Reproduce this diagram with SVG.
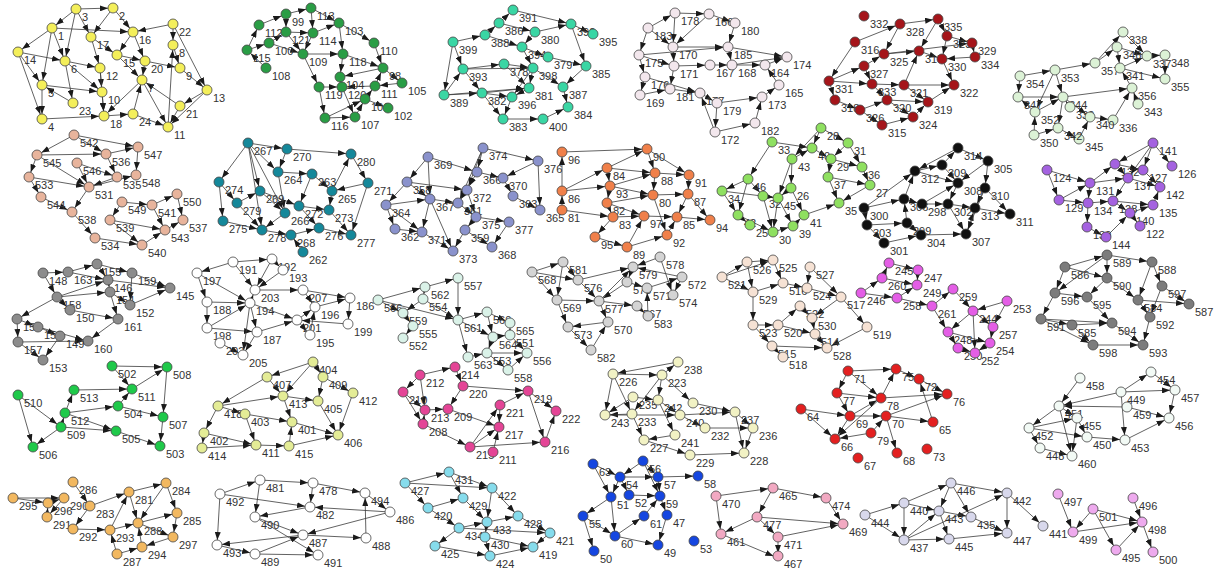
<svg xmlns="http://www.w3.org/2000/svg" width="1215" height="570" viewBox="0 0 1215 570">
<defs>
<marker id="a" viewBox="0 0 8 6" refX="13" refY="3" markerWidth="8" markerHeight="6" markerUnits="userSpaceOnUse" orient="auto"><path d="M0,0L8,3L0,6z" fill="#1a1a1a"/></marker>
</defs>
<style>
#edges line{stroke:#3a3a3a;stroke-width:.8;marker-end:url(#a)}
circle{r:5px;stroke:#454545;stroke-width:.8}
text{font-family:"Liberation Sans",Arial,sans-serif;font-size:11px;fill:#333;transform:translate(6px,12px)}
.cA circle{fill:#f4ef5a}.cB circle{fill:#2a9d45}.cC circle{fill:#3ad6a4}.cD circle{fill:#f3e7ed}
.cE circle{fill:#a5151a}.cF circle{fill:#dcf2d6}.cG circle{fill:#e8b49c}.cH circle{fill:#15889a}
.cI circle{fill:#8a92cc}.cJ circle{fill:#f0804a}.cK circle{fill:#8fe060}.cL circle{fill:#111}
.cM circle{fill:#a462e0}.cN circle{fill:#8c8c8c}.cO circle{fill:#fff}.cP circle{fill:#daf2e8}
.cQ circle{fill:#d4d4d4}.cR circle{fill:#f6e2d4}.cS circle{fill:#e45ee6}.cT circle{fill:#7c7c7c}
.cU circle{fill:#1fc94a}.cV circle{fill:#e4ec96}.cW circle{fill:#f2b860}.cX circle{fill:#fff}
.cY circle{fill:#e44596}.cZ circle{fill:#f2f2c4}.cAA circle{fill:#e32020}.cAB circle{fill:#f2faf5}
.cAC circle{fill:#86dcec}.cAD circle{fill:#1546e0}.cAE circle{fill:#f2a9c2}.cAF circle{fill:#d8d8ec}.cAG circle{fill:#eeaaee}
</style>
<rect width="1215" height="570" fill="#fff"/>
<g id="edges">
<line x1="76" y1="9" x2="52" y2="28"/><line x1="76" y1="9" x2="113" y2="8"/><line x1="113" y1="8" x2="133" y2="32"/><line x1="52" y1="28" x2="18" y2="52"/><line x1="18" y1="52" x2="42" y2="119"/><line x1="18" y1="52" x2="42" y2="85"/><line x1="52" y1="28" x2="42" y2="85"/><line x1="65" y1="61" x2="100" y2="68"/><line x1="76" y1="9" x2="91" y2="37"/><line x1="91" y1="37" x2="117" y2="55"/><line x1="133" y1="32" x2="145" y2="61"/><line x1="173" y1="24" x2="173" y2="45"/><line x1="173" y1="24" x2="133" y2="32"/><line x1="173" y1="45" x2="180" y2="68"/><line x1="180" y1="68" x2="207" y2="90"/><line x1="173" y1="24" x2="207" y2="90"/><line x1="145" y1="61" x2="142" y2="80"/><line x1="142" y1="80" x2="168" y2="127"/><line x1="180" y1="106" x2="168" y2="127"/><line x1="133" y1="114" x2="168" y2="127"/><line x1="104" y1="116" x2="133" y2="114"/><line x1="42" y1="119" x2="104" y2="116"/><line x1="73" y1="103" x2="42" y2="85"/><line x1="65" y1="61" x2="73" y2="103"/><line x1="102" y1="92" x2="104" y2="116"/><line x1="100" y1="68" x2="102" y2="92"/><line x1="117" y1="55" x2="142" y2="80"/><line x1="52" y1="28" x2="65" y2="61"/><line x1="42" y1="85" x2="42" y2="119"/><line x1="91" y1="37" x2="100" y2="68"/><line x1="145" y1="61" x2="180" y2="68"/><line x1="133" y1="114" x2="142" y2="80"/><line x1="180" y1="106" x2="142" y2="80"/><line x1="100" y1="68" x2="104" y2="116"/><line x1="113" y1="8" x2="91" y2="37"/><line x1="133" y1="32" x2="117" y2="55"/><line x1="142" y1="80" x2="104" y2="116"/><line x1="168" y1="127" x2="173" y2="45"/><line x1="207" y1="90" x2="180" y2="106"/><line x1="65" y1="61" x2="102" y2="92"/><line x1="117" y1="55" x2="145" y2="61"/><line x1="76" y1="9" x2="65" y2="61"/><line x1="52" y1="28" x2="133" y2="32"/><line x1="18" y1="52" x2="65" y2="61"/><line x1="42" y1="85" x2="102" y2="92"/><line x1="207" y1="90" x2="168" y2="127"/>
<line x1="259" y1="25" x2="286" y2="14"/><line x1="286" y1="14" x2="311" y2="8"/><line x1="311" y1="8" x2="313" y2="33"/><line x1="286" y1="14" x2="286" y2="32"/><line x1="286" y1="32" x2="303" y2="54"/><line x1="313" y1="33" x2="303" y2="54"/><line x1="339" y1="23" x2="343" y2="54"/><line x1="339" y1="23" x2="374" y2="43"/><line x1="374" y1="43" x2="383" y2="68"/><line x1="383" y1="68" x2="402" y2="83"/><line x1="247" y1="50" x2="259" y2="25"/><line x1="247" y1="50" x2="269" y2="43"/><line x1="269" y1="43" x2="303" y2="54"/><line x1="266" y1="68" x2="247" y2="50"/><line x1="303" y1="54" x2="343" y2="54"/><line x1="303" y1="54" x2="319" y2="87"/><line x1="343" y1="54" x2="340" y2="77"/><line x1="340" y1="77" x2="342" y2="87"/><line x1="319" y1="87" x2="325" y2="118"/><line x1="342" y1="87" x2="355" y2="117"/><line x1="375" y1="86" x2="383" y2="68"/><line x1="365" y1="99" x2="388" y2="108"/><line x1="355" y1="117" x2="365" y2="99"/><line x1="325" y1="118" x2="355" y2="117"/><line x1="383" y1="68" x2="340" y2="77"/><line x1="375" y1="86" x2="342" y2="87"/><line x1="319" y1="87" x2="342" y2="87"/><line x1="311" y1="8" x2="339" y2="23"/><line x1="286" y1="32" x2="313" y2="33"/><line x1="343" y1="54" x2="383" y2="68"/><line x1="402" y1="83" x2="375" y2="86"/><line x1="365" y1="99" x2="375" y2="86"/><line x1="269" y1="43" x2="286" y2="32"/><line x1="313" y1="33" x2="339" y2="23"/><line x1="325" y1="118" x2="365" y2="99"/>
<line x1="513" y1="10" x2="571" y2="24"/><line x1="499" y1="23" x2="513" y2="10"/><line x1="499" y1="23" x2="535" y2="32"/><line x1="535" y1="32" x2="571" y2="24"/><line x1="571" y1="24" x2="593" y2="34"/><line x1="485" y1="35" x2="499" y2="23"/><line x1="453" y1="42" x2="485" y2="35"/><line x1="485" y1="35" x2="522" y2="47"/><line x1="522" y1="47" x2="548" y2="57"/><line x1="548" y1="57" x2="586" y2="66"/><line x1="571" y1="24" x2="586" y2="66"/><line x1="453" y1="42" x2="444" y2="95"/><line x1="444" y1="95" x2="463" y2="69"/><line x1="463" y1="69" x2="504" y2="64"/><line x1="504" y1="64" x2="533" y2="68"/><line x1="533" y1="68" x2="529" y2="88"/><line x1="533" y1="68" x2="563" y2="87"/><line x1="563" y1="87" x2="568" y2="107"/><line x1="444" y1="95" x2="482" y2="93"/><line x1="482" y1="93" x2="529" y2="88"/><line x1="482" y1="93" x2="503" y2="119"/><line x1="512" y1="97" x2="503" y2="119"/><line x1="503" y1="119" x2="543" y2="119"/><line x1="543" y1="119" x2="568" y2="107"/><line x1="529" y1="88" x2="512" y2="97"/><line x1="463" y1="69" x2="482" y2="93"/><line x1="504" y1="64" x2="529" y2="88"/><line x1="522" y1="47" x2="533" y2="68"/><line x1="535" y1="32" x2="522" y2="47"/><line x1="586" y1="66" x2="563" y2="87"/><line x1="453" y1="42" x2="463" y2="69"/><line x1="482" y1="93" x2="512" y2="97"/><line x1="533" y1="68" x2="512" y2="97"/><line x1="444" y1="95" x2="529" y2="88"/><line x1="463" y1="69" x2="533" y2="68"/>
<line x1="675" y1="13" x2="709" y2="14"/><line x1="709" y1="14" x2="735" y2="23"/><line x1="648" y1="28" x2="675" y2="13"/><line x1="648" y1="28" x2="639" y2="55"/><line x1="639" y1="55" x2="645" y2="77"/><line x1="645" y1="77" x2="640" y2="95"/><line x1="673" y1="47" x2="728" y2="47"/><line x1="728" y1="47" x2="787" y2="57"/><line x1="674" y1="66" x2="710" y2="65"/><line x1="710" y1="65" x2="732" y2="65"/><line x1="732" y1="65" x2="765" y2="65"/><line x1="765" y1="65" x2="787" y2="57"/><line x1="779" y1="85" x2="765" y2="65"/><line x1="735" y1="23" x2="728" y2="47"/><line x1="673" y1="47" x2="674" y2="66"/><line x1="639" y1="55" x2="674" y2="66"/><line x1="670" y1="89" x2="700" y2="93"/><line x1="640" y1="95" x2="670" y2="89"/><line x1="700" y1="93" x2="717" y2="103"/><line x1="717" y1="103" x2="762" y2="97"/><line x1="762" y1="97" x2="779" y2="85"/><line x1="715" y1="132" x2="755" y2="123"/><line x1="755" y1="123" x2="762" y2="97"/><line x1="715" y1="132" x2="700" y2="93"/><line x1="648" y1="28" x2="673" y2="47"/><line x1="709" y1="14" x2="673" y2="47"/><line x1="732" y1="65" x2="787" y2="57"/><line x1="728" y1="47" x2="732" y2="65"/><line x1="674" y1="66" x2="670" y2="89"/><line x1="717" y1="103" x2="715" y2="132"/><line x1="675" y1="13" x2="673" y2="47"/><line x1="639" y1="55" x2="728" y2="47"/><line x1="645" y1="77" x2="700" y2="93"/>
<line x1="900" y1="24" x2="938" y2="19"/><line x1="938" y1="19" x2="947" y2="36"/><line x1="947" y1="36" x2="972" y2="43"/><line x1="972" y1="43" x2="975" y2="57"/><line x1="855" y1="42" x2="829" y2="81"/><line x1="884" y1="54" x2="919" y2="51"/><line x1="919" y1="51" x2="942" y2="59"/><line x1="942" y1="59" x2="954" y2="85"/><line x1="864" y1="66" x2="872" y2="84"/><line x1="872" y1="84" x2="904" y2="85"/><line x1="904" y1="85" x2="954" y2="85"/><line x1="829" y1="81" x2="835" y2="100"/><line x1="835" y1="100" x2="860" y2="110"/><line x1="860" y1="110" x2="887" y2="100"/><line x1="887" y1="100" x2="928" y2="102"/><line x1="928" y1="102" x2="954" y2="85"/><line x1="913" y1="117" x2="928" y2="102"/><line x1="882" y1="125" x2="913" y2="117"/><line x1="900" y1="24" x2="884" y2="54"/><line x1="938" y1="19" x2="919" y2="51"/><line x1="864" y1="66" x2="884" y2="54"/><line x1="947" y1="36" x2="942" y2="59"/><line x1="887" y1="100" x2="913" y2="117"/><line x1="872" y1="84" x2="887" y2="100"/><line x1="829" y1="81" x2="872" y2="84"/><line x1="855" y1="42" x2="900" y2="24"/><line x1="975" y1="57" x2="942" y2="59"/><line x1="904" y1="85" x2="928" y2="102"/><line x1="829" y1="81" x2="864" y2="66"/><line x1="884" y1="54" x2="972" y2="43"/><line x1="860" y1="110" x2="882" y2="125"/><line x1="904" y1="85" x2="919" y2="51"/>
<line x1="1123" y1="32" x2="1147" y2="56"/><line x1="1117" y1="47" x2="1147" y2="56"/><line x1="1147" y1="56" x2="1165" y2="55"/><line x1="1165" y1="55" x2="1165" y2="79"/><line x1="1095" y1="63" x2="1123" y2="32"/><line x1="1095" y1="63" x2="1117" y2="47"/><line x1="1120" y1="68" x2="1165" y2="79"/><line x1="1055" y1="70" x2="1095" y2="63"/><line x1="1020" y1="76" x2="1055" y2="70"/><line x1="1020" y1="76" x2="1018" y2="97"/><line x1="1018" y1="97" x2="1063" y2="97"/><line x1="1055" y1="70" x2="1063" y2="97"/><line x1="1063" y1="97" x2="1132" y2="88"/><line x1="1132" y1="88" x2="1120" y2="68"/><line x1="1138" y1="104" x2="1132" y2="88"/><line x1="1035" y1="112" x2="1063" y2="97"/><line x1="1034" y1="135" x2="1035" y2="112"/><line x1="1034" y1="135" x2="1058" y2="128"/><line x1="1058" y1="128" x2="1079" y2="139"/><line x1="1079" y1="139" x2="1090" y2="117"/><line x1="1090" y1="117" x2="1113" y2="120"/><line x1="1113" y1="120" x2="1132" y2="88"/><line x1="1070" y1="107" x2="1063" y2="97"/><line x1="1063" y1="97" x2="1090" y2="117"/><line x1="1035" y1="112" x2="1018" y2="97"/><line x1="1120" y1="68" x2="1147" y2="56"/><line x1="1055" y1="70" x2="1035" y2="112"/><line x1="1063" y1="97" x2="1058" y2="128"/><line x1="1117" y1="47" x2="1120" y2="68"/>
<line x1="74" y1="135" x2="138" y2="147"/><line x1="37" y1="155" x2="106" y2="154"/><line x1="74" y1="135" x2="37" y2="155"/><line x1="106" y1="154" x2="138" y2="147"/><line x1="37" y1="155" x2="29" y2="177"/><line x1="77" y1="163" x2="89" y2="187"/><line x1="106" y1="154" x2="117" y2="177"/><line x1="138" y1="147" x2="136" y2="175"/><line x1="117" y1="177" x2="89" y2="187"/><line x1="29" y1="177" x2="41" y2="197"/><line x1="41" y1="197" x2="72" y2="212"/><line x1="89" y1="187" x2="72" y2="212"/><line x1="89" y1="187" x2="136" y2="175"/><line x1="122" y1="202" x2="152" y2="205"/><line x1="152" y1="205" x2="177" y2="194"/><line x1="122" y1="202" x2="110" y2="220"/><line x1="110" y1="220" x2="142" y2="245"/><line x1="95" y1="238" x2="142" y2="245"/><line x1="165" y1="230" x2="183" y2="220"/><line x1="152" y1="205" x2="165" y2="230"/><line x1="142" y1="245" x2="165" y2="230"/><line x1="72" y1="212" x2="95" y2="238"/><line x1="37" y1="155" x2="89" y2="187"/><line x1="77" y1="163" x2="117" y2="177"/><line x1="177" y1="194" x2="183" y2="220"/><line x1="110" y1="220" x2="165" y2="230"/><line x1="29" y1="177" x2="89" y2="187"/><line x1="74" y1="135" x2="106" y2="154"/>
<line x1="248" y1="143" x2="287" y2="149"/><line x1="287" y1="149" x2="351" y2="154"/><line x1="351" y1="154" x2="368" y2="183"/><line x1="368" y1="183" x2="332" y2="191"/><line x1="368" y1="183" x2="351" y2="235"/><line x1="248" y1="143" x2="219" y2="182"/><line x1="248" y1="143" x2="260" y2="191"/><line x1="248" y1="143" x2="278" y2="172"/><line x1="278" y1="172" x2="312" y2="174"/><line x1="312" y1="174" x2="332" y2="191"/><line x1="219" y1="182" x2="237" y2="203"/><line x1="237" y1="203" x2="260" y2="191"/><line x1="260" y1="191" x2="299" y2="206"/><line x1="299" y1="206" x2="329" y2="210"/><line x1="278" y1="172" x2="285" y2="213"/><line x1="285" y1="213" x2="262" y2="230"/><line x1="223" y1="221" x2="262" y2="230"/><line x1="219" y1="182" x2="223" y2="221"/><line x1="262" y1="230" x2="291" y2="235"/><line x1="291" y1="235" x2="319" y2="228"/><line x1="319" y1="228" x2="351" y2="235"/><line x1="332" y1="191" x2="329" y2="210"/><line x1="329" y1="210" x2="351" y2="235"/><line x1="312" y1="174" x2="299" y2="206"/><line x1="303" y1="252" x2="291" y2="235"/><line x1="287" y1="149" x2="278" y2="172"/><line x1="260" y1="191" x2="285" y2="213"/><line x1="237" y1="203" x2="262" y2="230"/><line x1="299" y1="206" x2="319" y2="228"/><line x1="248" y1="143" x2="262" y2="230"/><line x1="332" y1="191" x2="351" y2="154"/><line x1="248" y1="143" x2="285" y2="213"/>
<line x1="483" y1="148" x2="538" y2="161"/><line x1="428" y1="157" x2="477" y2="172"/><line x1="483" y1="148" x2="477" y2="172"/><line x1="538" y1="161" x2="503" y2="178"/><line x1="538" y1="161" x2="540" y2="210"/><line x1="477" y1="172" x2="467" y2="190"/><line x1="503" y1="178" x2="513" y2="196"/><line x1="407" y1="182" x2="386" y2="205"/><line x1="407" y1="182" x2="430" y2="199"/><line x1="428" y1="157" x2="407" y2="182"/><line x1="430" y1="199" x2="458" y2="203"/><line x1="458" y1="203" x2="476" y2="217"/><line x1="467" y1="190" x2="476" y2="217"/><line x1="476" y1="217" x2="509" y2="222"/><line x1="513" y1="196" x2="540" y2="210"/><line x1="386" y1="205" x2="395" y2="229"/><line x1="395" y1="229" x2="422" y2="232"/><line x1="422" y1="232" x2="453" y2="251"/><line x1="465" y1="230" x2="453" y2="251"/><line x1="465" y1="230" x2="492" y2="247"/><line x1="509" y1="222" x2="492" y2="247"/><line x1="467" y1="190" x2="458" y2="203"/><line x1="430" y1="199" x2="422" y2="232"/><line x1="386" y1="205" x2="430" y2="199"/><line x1="477" y1="172" x2="503" y2="178"/><line x1="483" y1="148" x2="467" y2="190"/><line x1="428" y1="157" x2="430" y2="199"/><line x1="476" y1="217" x2="465" y2="230"/><line x1="430" y1="199" x2="453" y2="251"/><line x1="483" y1="148" x2="458" y2="203"/><line x1="407" y1="182" x2="467" y2="190"/><line x1="386" y1="205" x2="422" y2="232"/>
<line x1="562" y1="152" x2="647" y2="149"/><line x1="562" y1="191" x2="562" y2="152"/><line x1="607" y1="168" x2="647" y2="149"/><line x1="647" y1="149" x2="655" y2="173"/><line x1="655" y1="173" x2="689" y2="175"/><line x1="689" y1="175" x2="688" y2="194"/><line x1="688" y1="194" x2="710" y2="220"/><line x1="562" y1="191" x2="607" y2="168"/><line x1="562" y1="191" x2="610" y2="186"/><line x1="610" y1="186" x2="653" y2="195"/><line x1="653" y1="195" x2="688" y2="194"/><line x1="607" y1="168" x2="655" y2="173"/><line x1="562" y1="210" x2="562" y2="191"/><line x1="562" y1="210" x2="613" y2="217"/><line x1="607" y1="203" x2="613" y2="217"/><line x1="613" y1="217" x2="644" y2="216"/><line x1="644" y1="216" x2="677" y2="217"/><line x1="677" y1="217" x2="710" y2="220"/><line x1="595" y1="237" x2="627" y2="247"/><line x1="627" y1="247" x2="667" y2="235"/><line x1="667" y1="235" x2="677" y2="217"/><line x1="613" y1="217" x2="595" y2="237"/><line x1="610" y1="186" x2="607" y2="203"/><line x1="607" y1="203" x2="644" y2="216"/><line x1="653" y1="195" x2="667" y2="235"/><line x1="655" y1="173" x2="653" y2="195"/><line x1="627" y1="247" x2="644" y2="216"/><line x1="647" y1="149" x2="689" y2="175"/><line x1="607" y1="168" x2="610" y2="186"/><line x1="610" y1="186" x2="655" y2="173"/><line x1="607" y1="203" x2="653" y2="195"/><line x1="688" y1="194" x2="677" y2="217"/>
<line x1="821" y1="128" x2="848" y2="143"/><line x1="821" y1="128" x2="812" y2="148"/><line x1="821" y1="128" x2="792" y2="159"/><line x1="848" y1="143" x2="862" y2="167"/><line x1="862" y1="167" x2="870" y2="185"/><line x1="831" y1="159" x2="828" y2="177"/><line x1="828" y1="177" x2="839" y2="203"/><line x1="870" y1="185" x2="839" y2="203"/><line x1="772" y1="142" x2="748" y2="179"/><line x1="748" y1="179" x2="722" y2="191"/><line x1="722" y1="191" x2="738" y2="215"/><line x1="792" y1="159" x2="791" y2="188"/><line x1="748" y1="179" x2="763" y2="196"/><line x1="763" y1="196" x2="778" y2="198"/><line x1="778" y1="198" x2="793" y2="226"/><line x1="804" y1="215" x2="839" y2="203"/><line x1="793" y1="226" x2="804" y2="215"/><line x1="738" y1="215" x2="773" y2="232"/><line x1="773" y1="232" x2="793" y2="226"/><line x1="848" y1="143" x2="831" y2="159"/><line x1="812" y1="148" x2="831" y2="159"/><line x1="792" y1="159" x2="812" y2="148"/><line x1="791" y1="188" x2="804" y2="215"/><line x1="748" y1="179" x2="738" y2="215"/><line x1="763" y1="196" x2="773" y2="232"/><line x1="831" y1="159" x2="862" y2="167"/><line x1="828" y1="177" x2="870" y2="185"/><line x1="778" y1="198" x2="773" y2="232"/><line x1="791" y1="188" x2="778" y2="198"/><line x1="772" y1="142" x2="812" y2="148"/><line x1="738" y1="215" x2="750" y2="225"/><line x1="722" y1="191" x2="778" y2="198"/><line x1="792" y1="159" x2="778" y2="198"/>
<line x1="958" y1="148" x2="988" y2="161"/><line x1="942" y1="165" x2="958" y2="148"/><line x1="915" y1="171" x2="942" y2="165"/><line x1="988" y1="161" x2="985" y2="188"/><line x1="942" y1="165" x2="958" y2="183"/><line x1="958" y1="183" x2="948" y2="204"/><line x1="985" y1="188" x2="975" y2="208"/><line x1="975" y1="208" x2="1010" y2="214"/><line x1="904" y1="199" x2="915" y2="171"/><line x1="864" y1="208" x2="904" y2="199"/><line x1="922" y1="204" x2="958" y2="183"/><line x1="948" y1="204" x2="975" y2="208"/><line x1="907" y1="223" x2="921" y2="235"/><line x1="867" y1="225" x2="884" y2="243"/><line x1="864" y1="208" x2="867" y2="225"/><line x1="884" y1="243" x2="921" y2="235"/><line x1="921" y1="235" x2="966" y2="234"/><line x1="966" y1="234" x2="975" y2="208"/><line x1="948" y1="204" x2="966" y2="234"/><line x1="904" y1="199" x2="922" y2="204"/><line x1="907" y1="223" x2="904" y2="199"/><line x1="915" y1="171" x2="958" y2="183"/><line x1="985" y1="188" x2="966" y2="234"/><line x1="867" y1="225" x2="907" y2="223"/><line x1="988" y1="161" x2="958" y2="183"/><line x1="864" y1="208" x2="915" y2="171"/><line x1="985" y1="188" x2="1010" y2="214"/><line x1="958" y1="148" x2="915" y2="171"/><line x1="922" y1="204" x2="948" y2="204"/>
<line x1="1153" y1="143" x2="1172" y2="166"/><line x1="1153" y1="143" x2="1143" y2="170"/><line x1="1115" y1="164" x2="1143" y2="170"/><line x1="1090" y1="183" x2="1115" y2="164"/><line x1="1047" y1="170" x2="1059" y2="200"/><line x1="1059" y1="200" x2="1090" y2="183"/><line x1="1090" y1="183" x2="1128" y2="178"/><line x1="1128" y1="178" x2="1160" y2="187"/><line x1="1143" y1="170" x2="1160" y2="187"/><line x1="1088" y1="203" x2="1113" y2="201"/><line x1="1113" y1="201" x2="1153" y2="205"/><line x1="1153" y1="205" x2="1160" y2="187"/><line x1="1059" y1="200" x2="1088" y2="203"/><line x1="1088" y1="203" x2="1087" y2="227"/><line x1="1087" y1="227" x2="1106" y2="237"/><line x1="1130" y1="213" x2="1140" y2="226"/><line x1="1113" y1="201" x2="1130" y2="213"/><line x1="1128" y1="178" x2="1113" y2="201"/><line x1="1106" y1="237" x2="1130" y2="213"/><line x1="1153" y1="143" x2="1128" y2="178"/><line x1="1090" y1="183" x2="1088" y2="203"/><line x1="1115" y1="164" x2="1128" y2="178"/><line x1="1047" y1="170" x2="1090" y2="183"/><line x1="1153" y1="143" x2="1115" y2="164"/><line x1="1130" y1="213" x2="1153" y2="205"/>
<line x1="97" y1="264" x2="132" y2="273"/><line x1="43" y1="273" x2="68" y2="272"/><line x1="68" y1="272" x2="97" y2="264"/><line x1="132" y1="273" x2="170" y2="288"/><line x1="108" y1="280" x2="170" y2="288"/><line x1="43" y1="273" x2="57" y2="297"/><line x1="68" y1="272" x2="108" y2="280"/><line x1="57" y1="297" x2="110" y2="292"/><line x1="110" y1="292" x2="118" y2="319"/><line x1="130" y1="305" x2="170" y2="288"/><line x1="118" y1="319" x2="88" y2="341"/><line x1="57" y1="297" x2="17" y2="319"/><line x1="17" y1="319" x2="18" y2="342"/><line x1="18" y1="342" x2="43" y2="360"/><line x1="38" y1="327" x2="88" y2="341"/><line x1="70" y1="310" x2="118" y2="319"/><line x1="57" y1="297" x2="70" y2="310"/><line x1="60" y1="336" x2="43" y2="360"/><line x1="38" y1="327" x2="60" y2="336"/><line x1="17" y1="319" x2="38" y2="327"/><line x1="108" y1="280" x2="110" y2="292"/><line x1="110" y1="292" x2="130" y2="305"/><line x1="18" y1="342" x2="88" y2="341"/><line x1="57" y1="297" x2="108" y2="280"/><line x1="97" y1="264" x2="108" y2="280"/><line x1="132" y1="273" x2="130" y2="305"/>
<line x1="233" y1="262" x2="197" y2="273"/><line x1="233" y1="262" x2="272" y2="259"/><line x1="272" y1="259" x2="283" y2="270"/><line x1="233" y1="262" x2="255" y2="290"/><line x1="197" y1="273" x2="207" y2="302"/><line x1="197" y1="273" x2="250" y2="303"/><line x1="255" y1="290" x2="303" y2="290"/><line x1="283" y1="270" x2="255" y2="290"/><line x1="303" y1="290" x2="350" y2="298"/><line x1="350" y1="298" x2="348" y2="324"/><line x1="207" y1="302" x2="250" y2="303"/><line x1="250" y1="303" x2="257" y2="332"/><line x1="315" y1="307" x2="350" y2="298"/><line x1="297" y1="320" x2="315" y2="307"/><line x1="348" y1="324" x2="297" y2="320"/><line x1="257" y1="332" x2="297" y2="320"/><line x1="207" y1="328" x2="250" y2="303"/><line x1="207" y1="328" x2="257" y2="332"/><line x1="220" y1="343" x2="243" y2="355"/><line x1="257" y1="332" x2="243" y2="355"/><line x1="310" y1="335" x2="315" y2="307"/><line x1="297" y1="320" x2="310" y2="335"/><line x1="272" y1="259" x2="255" y2="290"/><line x1="250" y1="303" x2="255" y2="290"/><line x1="303" y1="290" x2="315" y2="307"/><line x1="207" y1="302" x2="207" y2="328"/><line x1="250" y1="303" x2="243" y2="355"/><line x1="250" y1="303" x2="297" y2="320"/>
<line x1="458" y1="278" x2="458" y2="320"/><line x1="425" y1="287" x2="458" y2="278"/><line x1="423" y1="299" x2="458" y2="320"/><line x1="378" y1="300" x2="403" y2="313"/><line x1="403" y1="313" x2="413" y2="326"/><line x1="413" y1="326" x2="403" y2="338"/><line x1="458" y1="320" x2="487" y2="312"/><line x1="487" y1="312" x2="510" y2="323"/><line x1="458" y1="320" x2="468" y2="357"/><line x1="493" y1="337" x2="510" y2="335"/><line x1="468" y1="357" x2="487" y2="353"/><line x1="487" y1="353" x2="527" y2="353"/><line x1="510" y1="335" x2="527" y2="353"/><line x1="487" y1="353" x2="508" y2="370"/><line x1="508" y1="370" x2="527" y2="353"/><line x1="378" y1="300" x2="425" y2="287"/><line x1="425" y1="287" x2="423" y2="299"/><line x1="487" y1="312" x2="493" y2="337"/><line x1="493" y1="337" x2="487" y2="353"/><line x1="458" y1="320" x2="493" y2="337"/><line x1="423" y1="299" x2="403" y2="313"/><line x1="510" y1="335" x2="510" y2="323"/><line x1="378" y1="300" x2="458" y2="320"/>
<line x1="532" y1="272" x2="563" y2="262"/><line x1="563" y1="262" x2="557" y2="300"/><line x1="532" y1="272" x2="557" y2="300"/><line x1="578" y1="280" x2="599" y2="301"/><line x1="557" y1="300" x2="599" y2="301"/><line x1="660" y1="257" x2="633" y2="267"/><line x1="633" y1="267" x2="627" y2="282"/><line x1="627" y1="282" x2="647" y2="288"/><line x1="647" y1="288" x2="682" y2="277"/><line x1="682" y1="277" x2="673" y2="295"/><line x1="660" y1="257" x2="673" y2="295"/><line x1="599" y1="301" x2="637" y2="306"/><line x1="637" y1="306" x2="648" y2="316"/><line x1="599" y1="301" x2="608" y2="322"/><line x1="608" y1="322" x2="568" y2="327"/><line x1="557" y1="300" x2="568" y2="327"/><line x1="568" y1="327" x2="591" y2="350"/><line x1="591" y1="350" x2="608" y2="322"/><line x1="578" y1="280" x2="633" y2="267"/><line x1="563" y1="262" x2="578" y2="280"/><line x1="627" y1="282" x2="599" y2="301"/><line x1="682" y1="277" x2="633" y2="267"/><line x1="648" y1="316" x2="647" y2="288"/><line x1="532" y1="272" x2="578" y2="280"/><line x1="599" y1="301" x2="633" y2="267"/>
<line x1="722" y1="277" x2="747" y2="262"/><line x1="747" y1="262" x2="773" y2="260"/><line x1="773" y1="260" x2="783" y2="283"/><line x1="810" y1="267" x2="807" y2="288"/><line x1="722" y1="277" x2="753" y2="292"/><line x1="753" y1="292" x2="783" y2="283"/><line x1="783" y1="283" x2="807" y2="288"/><line x1="807" y1="288" x2="841" y2="297"/><line x1="841" y1="297" x2="867" y2="327"/><line x1="800" y1="306" x2="812" y2="318"/><line x1="753" y1="292" x2="753" y2="325"/><line x1="753" y1="325" x2="778" y2="325"/><line x1="778" y1="325" x2="800" y2="306"/><line x1="812" y1="318" x2="815" y2="334"/><line x1="815" y1="334" x2="827" y2="348"/><line x1="867" y1="327" x2="827" y2="348"/><line x1="772" y1="346" x2="783" y2="357"/><line x1="753" y1="325" x2="772" y2="346"/><line x1="778" y1="325" x2="815" y2="334"/><line x1="810" y1="267" x2="841" y2="297"/><line x1="747" y1="262" x2="753" y2="292"/><line x1="772" y1="346" x2="827" y2="348"/><line x1="841" y1="297" x2="812" y2="318"/><line x1="722" y1="277" x2="773" y2="260"/>
<line x1="861" y1="293" x2="882" y2="278"/><line x1="882" y1="278" x2="889" y2="263"/><line x1="889" y1="263" x2="918" y2="270"/><line x1="918" y1="270" x2="917" y2="285"/><line x1="882" y1="278" x2="917" y2="285"/><line x1="897" y1="298" x2="917" y2="285"/><line x1="897" y1="298" x2="932" y2="306"/><line x1="932" y1="306" x2="953" y2="289"/><line x1="932" y1="306" x2="948" y2="332"/><line x1="953" y1="289" x2="973" y2="311"/><line x1="1007" y1="301" x2="973" y2="311"/><line x1="973" y1="311" x2="993" y2="327"/><line x1="1007" y1="301" x2="993" y2="327"/><line x1="948" y1="332" x2="990" y2="343"/><line x1="973" y1="311" x2="948" y2="332"/><line x1="958" y1="348" x2="975" y2="353"/><line x1="990" y1="343" x2="975" y2="353"/><line x1="948" y1="332" x2="958" y2="348"/><line x1="973" y1="311" x2="975" y2="353"/><line x1="993" y1="327" x2="990" y2="343"/><line x1="861" y1="293" x2="897" y2="298"/>
<line x1="1107" y1="255" x2="1152" y2="262"/><line x1="1065" y1="267" x2="1107" y2="255"/><line x1="1107" y1="255" x2="1107" y2="278"/><line x1="1152" y1="262" x2="1162" y2="286"/><line x1="1065" y1="267" x2="1055" y2="293"/><line x1="1055" y1="293" x2="1041" y2="319"/><line x1="1107" y1="278" x2="1138" y2="300"/><line x1="1162" y1="286" x2="1189" y2="304"/><line x1="1138" y1="300" x2="1189" y2="304"/><line x1="1150" y1="317" x2="1143" y2="345"/><line x1="1041" y1="319" x2="1072" y2="325"/><line x1="1072" y1="325" x2="1093" y2="345"/><line x1="1112" y1="323" x2="1143" y2="345"/><line x1="1087" y1="297" x2="1112" y2="323"/><line x1="1055" y1="293" x2="1087" y2="297"/><line x1="1107" y1="278" x2="1087" y2="297"/><line x1="1138" y1="300" x2="1150" y2="317"/><line x1="1093" y1="345" x2="1143" y2="345"/><line x1="1107" y1="255" x2="1055" y2="293"/><line x1="1152" y1="262" x2="1138" y2="300"/><line x1="1041" y1="319" x2="1112" y2="323"/><line x1="1072" y1="325" x2="1112" y2="323"/><line x1="1162" y1="286" x2="1150" y2="317"/><line x1="1065" y1="267" x2="1107" y2="278"/><line x1="1041" y1="319" x2="1093" y2="345"/>
<line x1="112" y1="366" x2="132" y2="389"/><line x1="112" y1="366" x2="167" y2="367"/><line x1="132" y1="389" x2="167" y2="367"/><line x1="74" y1="390" x2="132" y2="389"/><line x1="18" y1="395" x2="61" y2="427"/><line x1="18" y1="395" x2="33" y2="447"/><line x1="65" y1="413" x2="74" y2="390"/><line x1="61" y1="427" x2="65" y2="413"/><line x1="118" y1="406" x2="163" y2="417"/><line x1="65" y1="413" x2="116" y2="431"/><line x1="116" y1="431" x2="160" y2="446"/><line x1="163" y1="417" x2="160" y2="446"/><line x1="61" y1="427" x2="33" y2="447"/><line x1="167" y1="367" x2="163" y2="417"/><line x1="118" y1="406" x2="132" y2="389"/><line x1="61" y1="427" x2="116" y2="431"/><line x1="65" y1="413" x2="118" y2="406"/>
<line x1="313" y1="362" x2="267" y2="377"/><line x1="313" y1="362" x2="323" y2="377"/><line x1="323" y1="377" x2="353" y2="393"/><line x1="267" y1="377" x2="283" y2="396"/><line x1="283" y1="396" x2="318" y2="401"/><line x1="218" y1="406" x2="245" y2="414"/><line x1="245" y1="414" x2="292" y2="422"/><line x1="292" y1="422" x2="338" y2="435"/><line x1="353" y1="393" x2="338" y2="435"/><line x1="204" y1="433" x2="202" y2="448"/><line x1="202" y1="448" x2="256" y2="445"/><line x1="256" y1="445" x2="289" y2="446"/><line x1="289" y1="446" x2="292" y2="422"/><line x1="218" y1="406" x2="204" y2="433"/><line x1="267" y1="377" x2="218" y2="406"/><line x1="245" y1="414" x2="256" y2="445"/><line x1="283" y1="396" x2="292" y2="422"/><line x1="318" y1="401" x2="338" y2="435"/><line x1="204" y1="433" x2="256" y2="445"/><line x1="323" y1="377" x2="318" y2="401"/><line x1="313" y1="362" x2="283" y2="396"/><line x1="218" y1="406" x2="283" y2="396"/><line x1="289" y1="446" x2="338" y2="435"/>
<line x1="13" y1="498" x2="48" y2="503"/><line x1="48" y1="503" x2="64" y2="498"/><line x1="47" y1="517" x2="48" y2="503"/><line x1="73" y1="482" x2="90" y2="506"/><line x1="90" y1="506" x2="129" y2="492"/><line x1="129" y1="492" x2="166" y2="483"/><line x1="166" y1="483" x2="177" y2="513"/><line x1="177" y1="513" x2="173" y2="537"/><line x1="90" y1="506" x2="73" y2="529"/><line x1="73" y1="529" x2="110" y2="530"/><line x1="110" y1="530" x2="138" y2="523"/><line x1="138" y1="523" x2="177" y2="513"/><line x1="173" y1="537" x2="142" y2="547"/><line x1="142" y1="547" x2="138" y2="523"/><line x1="117" y1="554" x2="110" y2="530"/><line x1="117" y1="554" x2="142" y2="547"/><line x1="129" y1="492" x2="138" y2="523"/><line x1="166" y1="483" x2="138" y2="523"/><line x1="64" y1="498" x2="47" y2="517"/><line x1="138" y1="523" x2="173" y2="537"/><line x1="13" y1="498" x2="64" y2="498"/><line x1="110" y1="530" x2="129" y2="492"/>
<line x1="260" y1="480" x2="313" y2="483"/><line x1="220" y1="494" x2="260" y2="480"/><line x1="313" y1="483" x2="365" y2="493"/><line x1="313" y1="483" x2="310" y2="507"/><line x1="310" y1="507" x2="255" y2="517"/><line x1="365" y1="493" x2="390" y2="512"/><line x1="390" y1="512" x2="310" y2="507"/><line x1="255" y1="517" x2="303" y2="535"/><line x1="303" y1="535" x2="366" y2="538"/><line x1="366" y1="538" x2="365" y2="493"/><line x1="217" y1="545" x2="255" y2="554"/><line x1="255" y1="554" x2="318" y2="555"/><line x1="220" y1="494" x2="217" y2="545"/><line x1="303" y1="535" x2="217" y2="545"/><line x1="255" y1="517" x2="318" y2="555"/><line x1="255" y1="554" x2="303" y2="535"/><line x1="390" y1="512" x2="303" y2="535"/><line x1="220" y1="494" x2="310" y2="507"/><line x1="260" y1="480" x2="255" y2="517"/>
<line x1="420" y1="375" x2="455" y2="367"/><line x1="455" y1="367" x2="463" y2="386"/><line x1="463" y1="386" x2="528" y2="391"/><line x1="403" y1="392" x2="425" y2="410"/><line x1="425" y1="410" x2="448" y2="409"/><line x1="448" y1="409" x2="499" y2="427"/><line x1="500" y1="405" x2="528" y2="391"/><line x1="528" y1="391" x2="556" y2="411"/><line x1="500" y1="405" x2="499" y2="427"/><line x1="423" y1="424" x2="470" y2="447"/><line x1="470" y1="447" x2="499" y2="427"/><line x1="470" y1="447" x2="545" y2="442"/><line x1="545" y1="442" x2="556" y2="411"/><line x1="493" y1="452" x2="499" y2="427"/><line x1="420" y1="375" x2="425" y2="410"/><line x1="423" y1="424" x2="425" y2="410"/><line x1="463" y1="386" x2="448" y2="409"/><line x1="528" y1="391" x2="545" y2="442"/><line x1="403" y1="392" x2="423" y2="424"/><line x1="420" y1="375" x2="403" y2="392"/><line x1="470" y1="447" x2="500" y2="405"/>
<line x1="678" y1="362" x2="613" y2="374"/><line x1="662" y1="375" x2="678" y2="362"/><line x1="613" y1="374" x2="605" y2="415"/><line x1="613" y1="374" x2="632" y2="414"/><line x1="662" y1="375" x2="658" y2="400"/><line x1="633" y1="397" x2="605" y2="415"/><line x1="658" y1="400" x2="680" y2="415"/><line x1="693" y1="403" x2="735" y2="412"/><line x1="632" y1="414" x2="605" y2="415"/><line x1="680" y1="415" x2="705" y2="428"/><line x1="705" y1="428" x2="753" y2="428"/><line x1="735" y1="412" x2="753" y2="428"/><line x1="753" y1="428" x2="744" y2="453"/><line x1="735" y1="412" x2="744" y2="453"/><line x1="644" y1="440" x2="690" y2="455"/><line x1="690" y1="455" x2="744" y2="453"/><line x1="675" y1="435" x2="644" y2="440"/><line x1="632" y1="414" x2="644" y2="440"/><line x1="662" y1="375" x2="693" y2="403"/><line x1="658" y1="400" x2="675" y2="435"/><line x1="680" y1="415" x2="735" y2="412"/><line x1="633" y1="397" x2="658" y2="400"/><line x1="662" y1="375" x2="632" y2="414"/><line x1="605" y1="415" x2="680" y2="415"/><line x1="613" y1="374" x2="662" y2="375"/>
<line x1="848" y1="371" x2="896" y2="369"/><line x1="896" y1="369" x2="919" y2="379"/><line x1="919" y1="379" x2="947" y2="394"/><line x1="848" y1="371" x2="837" y2="393"/><line x1="837" y1="393" x2="850" y2="416"/><line x1="881" y1="398" x2="896" y2="369"/><line x1="881" y1="398" x2="947" y2="394"/><line x1="801" y1="409" x2="850" y2="416"/><line x1="801" y1="409" x2="835" y2="439"/><line x1="850" y1="416" x2="886" y2="416"/><line x1="886" y1="416" x2="933" y2="422"/><line x1="933" y1="422" x2="919" y2="379"/><line x1="871" y1="433" x2="886" y2="416"/><line x1="886" y1="416" x2="897" y2="453"/><line x1="850" y1="416" x2="835" y2="439"/><line x1="881" y1="398" x2="835" y2="439"/><line x1="871" y1="433" x2="835" y2="439"/><line x1="837" y1="393" x2="881" y2="398"/><line x1="850" y1="416" x2="881" y2="398"/><line x1="886" y1="416" x2="947" y2="394"/><line x1="848" y1="371" x2="881" y2="398"/>
<line x1="1151" y1="372" x2="1175" y2="390"/><line x1="1121" y1="392" x2="1151" y2="372"/><line x1="1121" y1="392" x2="1175" y2="390"/><line x1="1175" y1="390" x2="1169" y2="418"/><line x1="1080" y1="378" x2="1059" y2="406"/><line x1="1127" y1="407" x2="1059" y2="406"/><line x1="1059" y1="406" x2="1029" y2="428"/><line x1="1077" y1="418" x2="1072" y2="456"/><line x1="1029" y1="428" x2="1040" y2="448"/><line x1="1040" y1="448" x2="1072" y2="456"/><line x1="1087" y1="437" x2="1125" y2="440"/><line x1="1125" y1="440" x2="1169" y2="418"/><line x1="1121" y1="392" x2="1125" y2="440"/><line x1="1077" y1="418" x2="1087" y2="437"/><line x1="1059" y1="406" x2="1072" y2="456"/><line x1="1029" y1="428" x2="1077" y2="418"/><line x1="1127" y1="407" x2="1169" y2="418"/><line x1="1059" y1="406" x2="1077" y2="418"/><line x1="1121" y1="392" x2="1059" y2="406"/><line x1="1029" y1="428" x2="1087" y2="437"/>
<line x1="405" y1="483" x2="449" y2="472"/><line x1="449" y1="472" x2="492" y2="488"/><line x1="405" y1="483" x2="428" y2="508"/><line x1="449" y1="472" x2="463" y2="498"/><line x1="463" y1="498" x2="487" y2="522"/><line x1="492" y1="488" x2="518" y2="516"/><line x1="518" y1="516" x2="550" y2="533"/><line x1="487" y1="522" x2="518" y2="516"/><line x1="428" y1="508" x2="459" y2="528"/><line x1="459" y1="528" x2="435" y2="546"/><line x1="485" y1="537" x2="533" y2="547"/><line x1="435" y1="546" x2="490" y2="556"/><line x1="490" y1="556" x2="533" y2="547"/><line x1="487" y1="522" x2="485" y2="537"/><line x1="550" y1="533" x2="533" y2="547"/><line x1="459" y1="528" x2="487" y2="522"/><line x1="492" y1="488" x2="487" y2="522"/><line x1="428" y1="508" x2="463" y2="498"/><line x1="485" y1="537" x2="490" y2="556"/><line x1="405" y1="483" x2="492" y2="488"/><line x1="459" y1="528" x2="550" y2="533"/>
<line x1="593" y1="464" x2="611" y2="497"/><line x1="643" y1="461" x2="620" y2="477"/><line x1="643" y1="461" x2="658" y2="477"/><line x1="620" y1="477" x2="658" y2="477"/><line x1="658" y1="477" x2="698" y2="476"/><line x1="620" y1="477" x2="611" y2="497"/><line x1="629" y1="495" x2="660" y2="496"/><line x1="658" y1="477" x2="660" y2="496"/><line x1="611" y1="497" x2="583" y2="516"/><line x1="583" y1="516" x2="594" y2="551"/><line x1="611" y1="497" x2="615" y2="536"/><line x1="615" y1="536" x2="644" y2="516"/><line x1="615" y1="536" x2="658" y2="545"/><line x1="660" y1="496" x2="667" y2="515"/><line x1="644" y1="516" x2="660" y2="496"/><line x1="583" y1="516" x2="615" y2="536"/><line x1="667" y1="515" x2="658" y2="545"/><line x1="620" y1="477" x2="629" y2="495"/><line x1="643" y1="461" x2="660" y2="496"/><line x1="593" y1="464" x2="620" y2="477"/>
<line x1="716" y1="496" x2="773" y2="488"/><line x1="716" y1="496" x2="721" y2="534"/><line x1="773" y1="488" x2="757" y2="517"/><line x1="757" y1="517" x2="721" y2="534"/><line x1="757" y1="517" x2="778" y2="537"/><line x1="778" y1="537" x2="778" y2="558"/><line x1="721" y1="534" x2="778" y2="558"/><line x1="826" y1="498" x2="843" y2="524"/><line x1="773" y1="488" x2="826" y2="498"/><line x1="757" y1="517" x2="843" y2="524"/><line x1="778" y1="537" x2="843" y2="524"/>
<line x1="951" y1="483" x2="1007" y2="493"/><line x1="904" y1="503" x2="951" y2="483"/><line x1="865" y1="515" x2="904" y2="503"/><line x1="865" y1="515" x2="904" y2="540"/><line x1="904" y1="503" x2="904" y2="540"/><line x1="939" y1="511" x2="971" y2="517"/><line x1="951" y1="483" x2="971" y2="517"/><line x1="1007" y1="493" x2="1043" y2="526"/><line x1="1007" y1="493" x2="1007" y2="533"/><line x1="949" y1="539" x2="1007" y2="533"/><line x1="904" y1="540" x2="949" y2="539"/><line x1="939" y1="511" x2="949" y2="539"/><line x1="904" y1="540" x2="939" y2="511"/><line x1="904" y1="503" x2="939" y2="511"/><line x1="951" y1="483" x2="939" y2="511"/><line x1="971" y1="517" x2="1007" y2="533"/><line x1="904" y1="540" x2="1007" y2="493"/>
<line x1="1058" y1="494" x2="1073" y2="532"/><line x1="1093" y1="509" x2="1073" y2="532"/><line x1="1093" y1="509" x2="1142" y2="522"/><line x1="1133" y1="498" x2="1142" y2="522"/><line x1="1073" y1="532" x2="1142" y2="522"/><line x1="1093" y1="509" x2="1116" y2="550"/><line x1="1116" y1="550" x2="1142" y2="522"/><line x1="1142" y1="522" x2="1153" y2="552"/>
</g>
<g id="cA" class="cA">
<g id="n1" transform="translate(52,28)"><circle/><text>1</text></g><g id="n2" transform="translate(113,8)"><circle/><text>2</text></g><g id="n3" transform="translate(76,9)"><circle/><text>3</text></g><g id="n4" transform="translate(42,119)"><circle/><text>4</text></g><g id="n5" transform="translate(42,85)"><circle/><text>5</text></g><g id="n6" transform="translate(65,61)"><circle/><text>6</text></g><g id="n7" transform="translate(142,80)"><circle/><text>7</text></g><g id="n8" transform="translate(173,45)"><circle/><text>8</text></g><g id="n9" transform="translate(180,68)"><circle/><text>9</text></g><g id="n10" transform="translate(102,92)"><circle/><text>10</text></g><g id="n11" transform="translate(168,127)"><circle/><text>11</text></g><g id="n12" transform="translate(100,68)"><circle/><text>12</text></g><g id="n13" transform="translate(207,90)"><circle/><text>13</text></g><g id="n14" transform="translate(18,52)"><circle/><text>14</text></g><g id="n15" transform="translate(117,55)"><circle/><text>15</text></g><g id="n16" transform="translate(133,32)"><circle/><text>16</text></g><g id="n17" transform="translate(91,37)"><circle/><text>17</text></g><g id="n18" transform="translate(104,116)"><circle/><text>18</text></g><g id="n20" transform="translate(145,61)"><circle/><text>20</text></g><g id="n21" transform="translate(180,106)"><circle/><text>21</text></g><g id="n22" transform="translate(173,24)"><circle/><text>22</text></g><g id="n23" transform="translate(73,103)"><circle/><text>23</text></g><g id="n24" transform="translate(133,114)"><circle/><text>24</text></g>
</g>
<g id="cB" class="cB">
<g id="n99" transform="translate(286,14)"><circle/><text>99</text></g><g id="n113" transform="translate(311,8)"><circle/><text>113</text></g><g id="n112" transform="translate(259,25)"><circle/><text>112</text></g><g id="n121" transform="translate(286,32)"><circle/><text>121</text></g><g id="n114" transform="translate(313,33)"><circle/><text>114</text></g><g id="n103" transform="translate(339,23)"><circle/><text>103</text></g><g id="n115" transform="translate(247,50)"><circle/><text>115</text></g><g id="n100" transform="translate(269,43)"><circle/><text>100</text></g><g id="n109" transform="translate(303,54)"><circle/><text>109</text></g><g id="n108" transform="translate(266,68)"><circle/><text>108</text></g><g id="n118" transform="translate(343,54)"><circle/><text>118</text></g><g id="n110" transform="translate(374,43)"><circle/><text>110</text></g><g id="n98" transform="translate(383,68)"><circle/><text>98</text></g><g id="n105" transform="translate(402,83)"><circle/><text>105</text></g><g id="n104" transform="translate(340,77)"><circle/><text>104</text></g><g id="n119" transform="translate(319,87)"><circle/><text>119</text></g><g id="n120" transform="translate(342,87)"><circle/><text>120</text></g><g id="n111" transform="translate(375,86)"><circle/><text>111</text></g><g id="n101" transform="translate(365,99)"><circle/><text>101</text></g><g id="n102" transform="translate(388,108)"><circle/><text>102</text></g><g id="n116" transform="translate(325,118)"><circle/><text>116</text></g><g id="n107" transform="translate(355,117)"><circle/><text>107</text></g>
</g>
<g id="cC" class="cC">
<g id="n391" transform="translate(513,10)"><circle/><text>391</text></g><g id="n386" transform="translate(499,23)"><circle/><text>386</text></g><g id="n380" transform="translate(535,32)"><circle/><text>380</text></g><g id="n392" transform="translate(571,24)"><circle/><text>392</text></g><g id="n395" transform="translate(593,34)"><circle/><text>395</text></g><g id="n388" transform="translate(485,35)"><circle/><text>388</text></g><g id="n399" transform="translate(453,42)"><circle/><text>399</text></g><g id="n394" transform="translate(522,47)"><circle/><text>394</text></g><g id="n379" transform="translate(548,57)"><circle/><text>379</text></g><g id="n385" transform="translate(586,66)"><circle/><text>385</text></g><g id="n393" transform="translate(463,69)"><circle/><text>393</text></g><g id="n378" transform="translate(504,64)"><circle/><text>378</text></g><g id="n398" transform="translate(533,68)"><circle/><text>398</text></g><g id="n387" transform="translate(563,87)"><circle/><text>387</text></g><g id="n389" transform="translate(444,95)"><circle/><text>389</text></g><g id="n382" transform="translate(482,93)"><circle/><text>382</text></g><g id="n381" transform="translate(529,88)"><circle/><text>381</text></g><g id="n396" transform="translate(512,97)"><circle/><text>396</text></g><g id="n384" transform="translate(568,107)"><circle/><text>384</text></g><g id="n383" transform="translate(503,119)"><circle/><text>383</text></g><g id="n400" transform="translate(543,119)"><circle/><text>400</text></g>
</g>
<g id="cD" class="cD">
<g id="n178" transform="translate(675,13)"><circle/><text>178</text></g><g id="n166" transform="translate(709,14)"><circle/><text>166</text></g><g id="n180" transform="translate(735,23)"><circle/><text>180</text></g><g id="n183" transform="translate(648,28)"><circle/><text>183</text></g><g id="n170" transform="translate(673,47)"><circle/><text>170</text></g><g id="n175" transform="translate(639,55)"><circle/><text>175</text></g><g id="n185" transform="translate(728,47)"><circle/><text>185</text></g><g id="n174" transform="translate(787,57)"><circle/><text>174</text></g><g id="n171" transform="translate(674,66)"><circle/><text>171</text></g><g id="n167" transform="translate(710,65)"><circle/><text>167</text></g><g id="n168" transform="translate(732,65)"><circle/><text>168</text></g><g id="n164" transform="translate(765,65)"><circle/><text>164</text></g><g id="n165" transform="translate(779,85)"><circle/><text>165</text></g><g id="n176" transform="translate(645,77)"><circle/><text>176</text></g><g id="n181" transform="translate(670,89)"><circle/><text>181</text></g><g id="n169" transform="translate(640,95)"><circle/><text>169</text></g><g id="n177" transform="translate(700,93)"><circle/><text>177</text></g><g id="n179" transform="translate(717,103)"><circle/><text>179</text></g><g id="n173" transform="translate(762,97)"><circle/><text>173</text></g><g id="n182" transform="translate(755,123)"><circle/><text>182</text></g><g id="n172" transform="translate(715,132)"><circle/><text>172</text></g>
</g>
<g id="cE" class="cE">
<g id="n332" transform="translate(864,16)"><circle/><text>332</text></g><g id="n328" transform="translate(900,24)"><circle/><text>328</text></g><g id="n335" transform="translate(938,19)"><circle/><text>335</text></g><g id="n323" transform="translate(947,36)"><circle/><text>323</text></g><g id="n329" transform="translate(972,43)"><circle/><text>329</text></g><g id="n334" transform="translate(975,57)"><circle/><text>334</text></g><g id="n316" transform="translate(855,42)"><circle/><text>316</text></g><g id="n325" transform="translate(884,54)"><circle/><text>325</text></g><g id="n317" transform="translate(919,51)"><circle/><text>317</text></g><g id="n330" transform="translate(942,59)"><circle/><text>330</text></g><g id="n327" transform="translate(864,66)"><circle/><text>327</text></g><g id="n331" transform="translate(829,81)"><circle/><text>331</text></g><g id="n333" transform="translate(872,84)"><circle/><text>333</text></g><g id="n321" transform="translate(904,85)"><circle/><text>321</text></g><g id="n322" transform="translate(954,85)"><circle/><text>322</text></g><g id="n318" transform="translate(835,100)"><circle/><text>318</text></g><g id="n326" transform="translate(860,110)"><circle/><text>326</text></g><g id="n320" transform="translate(887,100)"><circle/><text>320</text></g><g id="n319" transform="translate(928,102)"><circle/><text>319</text></g><g id="n324" transform="translate(913,117)"><circle/><text>324</text></g><g id="n315" transform="translate(882,125)"><circle/><text>315</text></g>
</g>
<g id="cF" class="cF">
<g id="n338" transform="translate(1123,32)"><circle/><text>338</text></g><g id="n346" transform="translate(1117,47)"><circle/><text>346</text></g><g id="n348" transform="translate(1165,55)"><circle/><text>348</text></g><g id="n337" transform="translate(1147,56)"><circle/><text>337</text></g><g id="n357" transform="translate(1095,63)"><circle/><text>357</text></g><g id="n341" transform="translate(1120,68)"><circle/><text>341</text></g><g id="n355" transform="translate(1165,79)"><circle/><text>355</text></g><g id="n353" transform="translate(1055,70)"><circle/><text>353</text></g><g id="n354" transform="translate(1020,76)"><circle/><text>354</text></g><g id="n356" transform="translate(1132,88)"><circle/><text>356</text></g><g id="n347" transform="translate(1018,97)"><circle/><text>347</text></g><g id="n344" transform="translate(1063,97)"><circle/><text>344</text></g><g id="n343" transform="translate(1138,104)"><circle/><text>343</text></g><g id="n352" transform="translate(1035,112)"><circle/><text>352</text></g><g id="n339" transform="translate(1070,107)"><circle/><text>339</text></g><g id="n336" transform="translate(1113,120)"><circle/><text>336</text></g><g id="n340" transform="translate(1090,117)"><circle/><text>340</text></g><g id="n350" transform="translate(1034,135)"><circle/><text>350</text></g><g id="n345" transform="translate(1079,139)"><circle/><text>345</text></g><g id="n342" transform="translate(1058,128)"><circle/><text>342</text></g>
</g>
<g id="cG" class="cG">
<g id="n542" transform="translate(74,135)"><circle/><text>542</text></g><g id="n547" transform="translate(138,147)"><circle/><text>547</text></g><g id="n545" transform="translate(37,155)"><circle/><text>545</text></g><g id="n536" transform="translate(106,154)"><circle/><text>536</text></g><g id="n546" transform="translate(77,163)"><circle/><text>546</text></g><g id="n533" transform="translate(29,177)"><circle/><text>533</text></g><g id="n535" transform="translate(117,177)"><circle/><text>535</text></g><g id="n548" transform="translate(136,175)"><circle/><text>548</text></g><g id="n531" transform="translate(89,187)"><circle/><text>531</text></g><g id="n544" transform="translate(41,197)"><circle/><text>544</text></g><g id="n538" transform="translate(72,212)"><circle/><text>538</text></g><g id="n549" transform="translate(122,202)"><circle/><text>549</text></g><g id="n541" transform="translate(152,205)"><circle/><text>541</text></g><g id="n550" transform="translate(177,194)"><circle/><text>550</text></g><g id="n539" transform="translate(110,220)"><circle/><text>539</text></g><g id="n537" transform="translate(183,220)"><circle/><text>537</text></g><g id="n543" transform="translate(165,230)"><circle/><text>543</text></g><g id="n534" transform="translate(95,238)"><circle/><text>534</text></g><g id="n540" transform="translate(142,245)"><circle/><text>540</text></g>
</g>
<g id="cH" class="cH">
<g id="n267" transform="translate(248,143)"><circle/><text>267</text></g><g id="n270" transform="translate(287,149)"><circle/><text>270</text></g><g id="n280" transform="translate(351,154)"><circle/><text>280</text></g><g id="n264" transform="translate(278,172)"><circle/><text>264</text></g><g id="n263" transform="translate(312,174)"><circle/><text>263</text></g><g id="n271" transform="translate(368,183)"><circle/><text>271</text></g><g id="n274" transform="translate(219,182)"><circle/><text>274</text></g><g id="n269" transform="translate(260,191)"><circle/><text>269</text></g><g id="n265" transform="translate(332,191)"><circle/><text>265</text></g><g id="n279" transform="translate(237,203)"><circle/><text>279</text></g><g id="n272" transform="translate(299,206)"><circle/><text>272</text></g><g id="n273" transform="translate(329,210)"><circle/><text>273</text></g><g id="n266" transform="translate(285,213)"><circle/><text>266</text></g><g id="n275" transform="translate(223,221)"><circle/><text>275</text></g><g id="n278" transform="translate(262,230)"><circle/><text>278</text></g><g id="n268" transform="translate(291,235)"><circle/><text>268</text></g><g id="n276" transform="translate(319,228)"><circle/><text>276</text></g><g id="n277" transform="translate(351,235)"><circle/><text>277</text></g><g id="n262" transform="translate(303,252)"><circle/><text>262</text></g>
</g>
<g id="cI" class="cI">
<g id="n374" transform="translate(483,148)"><circle/><text>374</text></g><g id="n369" transform="translate(428,157)"><circle/><text>369</text></g><g id="n376" transform="translate(538,161)"><circle/><text>376</text></g><g id="n366" transform="translate(477,172)"><circle/><text>366</text></g><g id="n370" transform="translate(503,178)"><circle/><text>370</text></g><g id="n358" transform="translate(407,182)"><circle/><text>358</text></g><g id="n372" transform="translate(467,190)"><circle/><text>372</text></g><g id="n363" transform="translate(513,196)"><circle/><text>363</text></g><g id="n367" transform="translate(430,199)"><circle/><text>367</text></g><g id="n364" transform="translate(386,205)"><circle/><text>364</text></g><g id="n361" transform="translate(458,203)"><circle/><text>361</text></g><g id="n365" transform="translate(540,210)"><circle/><text>365</text></g><g id="n375" transform="translate(476,217)"><circle/><text>375</text></g><g id="n377" transform="translate(509,222)"><circle/><text>377</text></g><g id="n362" transform="translate(395,229)"><circle/><text>362</text></g><g id="n371" transform="translate(422,232)"><circle/><text>371</text></g><g id="n359" transform="translate(465,230)"><circle/><text>359</text></g><g id="n368" transform="translate(492,247)"><circle/><text>368</text></g><g id="n373" transform="translate(453,251)"><circle/><text>373</text></g>
</g>
<g id="cJ" class="cJ">
<g id="n96" transform="translate(562,152)"><circle/><text>96</text></g><g id="n90" transform="translate(647,149)"><circle/><text>90</text></g><g id="n84" transform="translate(607,168)"><circle/><text>84</text></g><g id="n88" transform="translate(655,173)"><circle/><text>88</text></g><g id="n91" transform="translate(689,175)"><circle/><text>91</text></g><g id="n86" transform="translate(562,191)"><circle/><text>86</text></g><g id="n93" transform="translate(610,186)"><circle/><text>93</text></g><g id="n80" transform="translate(653,195)"><circle/><text>80</text></g><g id="n87" transform="translate(688,194)"><circle/><text>87</text></g><g id="n82" transform="translate(607,203)"><circle/><text>82</text></g><g id="n81" transform="translate(562,210)"><circle/><text>81</text></g><g id="n83" transform="translate(613,217)"><circle/><text>83</text></g><g id="n97" transform="translate(644,216)"><circle/><text>97</text></g><g id="n85" transform="translate(677,217)"><circle/><text>85</text></g><g id="n94" transform="translate(710,220)"><circle/><text>94</text></g><g id="n95" transform="translate(595,237)"><circle/><text>95</text></g><g id="n89" transform="translate(627,247)"><circle/><text>89</text></g><g id="n92" transform="translate(667,235)"><circle/><text>92</text></g>
</g>
<g id="cK" class="cK">
<g id="n28" transform="translate(821,128)"><circle/><text>28</text></g><g id="n31" transform="translate(848,143)"><circle/><text>31</text></g><g id="n33" transform="translate(772,142)"><circle/><text>33</text></g><g id="n40" transform="translate(812,148)"><circle/><text>40</text></g><g id="n43" transform="translate(792,159)"><circle/><text>43</text></g><g id="n29" transform="translate(831,159)"><circle/><text>29</text></g><g id="n36" transform="translate(862,167)"><circle/><text>36</text></g><g id="n37" transform="translate(828,177)"><circle/><text>37</text></g><g id="n27" transform="translate(870,185)"><circle/><text>27</text></g><g id="n46" transform="translate(748,179)"><circle/><text>46</text></g><g id="n26" transform="translate(791,188)"><circle/><text>26</text></g><g id="n34" transform="translate(722,191)"><circle/><text>34</text></g><g id="n32" transform="translate(763,196)"><circle/><text>32</text></g><g id="n45" transform="translate(778,198)"><circle/><text>45</text></g><g id="n35" transform="translate(839,203)"><circle/><text>35</text></g><g id="n42" transform="translate(738,215)"><circle/><text>42</text></g><g id="n41" transform="translate(804,215)"><circle/><text>41</text></g><g id="n25" transform="translate(750,225)"><circle/><text>25</text></g><g id="n30" transform="translate(773,232)"><circle/><text>30</text></g><g id="n39" transform="translate(793,226)"><circle/><text>39</text></g>
</g>
<g id="cL" class="cL">
<g id="n314" transform="translate(958,148)"><circle/><text>314</text></g><g id="n305" transform="translate(988,161)"><circle/><text>305</text></g><g id="n309" transform="translate(942,165)"><circle/><text>309</text></g><g id="n312" transform="translate(915,171)"><circle/><text>312</text></g><g id="n308" transform="translate(958,183)"><circle/><text>308</text></g><g id="n310" transform="translate(985,188)"><circle/><text>310</text></g><g id="n306" transform="translate(904,199)"><circle/><text>306</text></g><g id="n298" transform="translate(922,204)"><circle/><text>298</text></g><g id="n302" transform="translate(948,204)"><circle/><text>302</text></g><g id="n300" transform="translate(864,208)"><circle/><text>300</text></g><g id="n313" transform="translate(975,208)"><circle/><text>313</text></g><g id="n311" transform="translate(1010,214)"><circle/><text>311</text></g><g id="n299" transform="translate(907,223)"><circle/><text>299</text></g><g id="n303" transform="translate(867,225)"><circle/><text>303</text></g><g id="n301" transform="translate(884,243)"><circle/><text>301</text></g><g id="n304" transform="translate(921,235)"><circle/><text>304</text></g><g id="n307" transform="translate(966,234)"><circle/><text>307</text></g>
</g>
<g id="cM" class="cM">
<g id="n141" transform="translate(1153,143)"><circle/><text>141</text></g><g id="n126" transform="translate(1172,166)"><circle/><text>126</text></g><g id="n132" transform="translate(1115,164)"><circle/><text>132</text></g><g id="n127" transform="translate(1143,170)"><circle/><text>127</text></g><g id="n124" transform="translate(1047,170)"><circle/><text>124</text></g><g id="n131" transform="translate(1090,183)"><circle/><text>131</text></g><g id="n137" transform="translate(1128,178)"><circle/><text>137</text></g><g id="n142" transform="translate(1160,187)"><circle/><text>142</text></g><g id="n129" transform="translate(1059,200)"><circle/><text>129</text></g><g id="n134" transform="translate(1088,203)"><circle/><text>134</text></g><g id="n128" transform="translate(1113,201)"><circle/><text>128</text></g><g id="n135" transform="translate(1153,205)"><circle/><text>135</text></g><g id="n140" transform="translate(1130,213)"><circle/><text>140</text></g><g id="n139" transform="translate(1087,227)"><circle/><text>139</text></g><g id="n122" transform="translate(1140,226)"><circle/><text>122</text></g><g id="n144" transform="translate(1106,237)"><circle/><text>144</text></g>
</g>
<g id="cN" class="cN">
<g id="n155" transform="translate(97,264)"><circle/><text>155</text></g><g id="n148" transform="translate(43,273)"><circle/><text>148</text></g><g id="n163" transform="translate(68,272)"><circle/><text>163</text></g><g id="n159" transform="translate(132,273)"><circle/><text>159</text></g><g id="n145" transform="translate(170,288)"><circle/><text>145</text></g><g id="n146" transform="translate(108,280)"><circle/><text>146</text></g><g id="n158" transform="translate(57,297)"><circle/><text>158</text></g><g id="n154" transform="translate(110,292)"><circle/><text>154</text></g><g id="n152" transform="translate(130,305)"><circle/><text>152</text></g><g id="n161" transform="translate(118,319)"><circle/><text>161</text></g><g id="n151" transform="translate(17,319)"><circle/><text>151</text></g><g id="n150" transform="translate(70,310)"><circle/><text>150</text></g><g id="n157" transform="translate(18,342)"><circle/><text>157</text></g><g id="n156" transform="translate(38,327)"><circle/><text>156</text></g><g id="n160" transform="translate(88,341)"><circle/><text>160</text></g><g id="n149" transform="translate(60,336)"><circle/><text>149</text></g><g id="n153" transform="translate(43,360)"><circle/><text>153</text></g>
</g>
<g id="cO" class="cO">
<g id="n191" transform="translate(233,262)"><circle/><text>191</text></g><g id="n192" transform="translate(272,259)"><circle/><text>192</text></g><g id="n197" transform="translate(197,273)"><circle/><text>197</text></g><g id="n193" transform="translate(283,270)"><circle/><text>193</text></g><g id="n203" transform="translate(255,290)"><circle/><text>203</text></g><g id="n207" transform="translate(303,290)"><circle/><text>207</text></g><g id="n186" transform="translate(350,298)"><circle/><text>186</text></g><g id="n188" transform="translate(207,302)"><circle/><text>188</text></g><g id="n194" transform="translate(250,303)"><circle/><text>194</text></g><g id="n196" transform="translate(315,307)"><circle/><text>196</text></g><g id="n201" transform="translate(297,320)"><circle/><text>201</text></g><g id="n199" transform="translate(348,324)"><circle/><text>199</text></g><g id="n198" transform="translate(207,328)"><circle/><text>198</text></g><g id="n187" transform="translate(257,332)"><circle/><text>187</text></g><g id="n195" transform="translate(310,335)"><circle/><text>195</text></g><g id="n202" transform="translate(220,343)"><circle/><text>202</text></g><g id="n205" transform="translate(243,355)"><circle/><text>205</text></g>
</g>
<g id="cP" class="cP">
<g id="n557" transform="translate(458,278)"><circle/><text>557</text></g><g id="n562" transform="translate(425,287)"><circle/><text>562</text></g><g id="n554" transform="translate(423,299)"><circle/><text>554</text></g><g id="n566" transform="translate(378,300)"><circle/><text>566</text></g><g id="n561" transform="translate(458,320)"><circle/><text>561</text></g><g id="n560" transform="translate(487,312)"><circle/><text>560</text></g><g id="n565" transform="translate(510,323)"><circle/><text>565</text></g><g id="n559" transform="translate(403,313)"><circle/><text>559</text></g><g id="n555" transform="translate(413,326)"><circle/><text>555</text></g><g id="n552" transform="translate(403,338)"><circle/><text>552</text></g><g id="n564" transform="translate(493,337)"><circle/><text>564</text></g><g id="n551" transform="translate(510,335)"><circle/><text>551</text></g><g id="n563" transform="translate(468,357)"><circle/><text>563</text></g><g id="n553" transform="translate(487,353)"><circle/><text>553</text></g><g id="n556" transform="translate(527,353)"><circle/><text>556</text></g><g id="n558" transform="translate(508,370)"><circle/><text>558</text></g>
</g>
<g id="cQ" class="cQ">
<g id="n581" transform="translate(563,262)"><circle/><text>581</text></g><g id="n578" transform="translate(660,257)"><circle/><text>578</text></g><g id="n568" transform="translate(532,272)"><circle/><text>568</text></g><g id="n579" transform="translate(633,267)"><circle/><text>579</text></g><g id="n576" transform="translate(578,280)"><circle/><text>576</text></g><g id="n572" transform="translate(682,277)"><circle/><text>572</text></g><g id="n575" transform="translate(627,282)"><circle/><text>575</text></g><g id="n571" transform="translate(647,288)"><circle/><text>571</text></g><g id="n574" transform="translate(673,295)"><circle/><text>574</text></g><g id="n569" transform="translate(557,300)"><circle/><text>569</text></g><g id="n577" transform="translate(599,301)"><circle/><text>577</text></g><g id="n567" transform="translate(637,306)"><circle/><text>567</text></g><g id="n583" transform="translate(648,316)"><circle/><text>583</text></g><g id="n573" transform="translate(568,327)"><circle/><text>573</text></g><g id="n570" transform="translate(608,322)"><circle/><text>570</text></g><g id="n582" transform="translate(591,350)"><circle/><text>582</text></g>
</g>
<g id="cR" class="cR">
<g id="n526" transform="translate(747,262)"><circle/><text>526</text></g><g id="n525" transform="translate(773,260)"><circle/><text>525</text></g><g id="n521" transform="translate(722,277)"><circle/><text>521</text></g><g id="n527" transform="translate(810,267)"><circle/><text>527</text></g><g id="n516" transform="translate(783,283)"><circle/><text>516</text></g><g id="n524" transform="translate(807,288)"><circle/><text>524</text></g><g id="n529" transform="translate(753,292)"><circle/><text>529</text></g><g id="n522" transform="translate(800,306)"><circle/><text>522</text></g><g id="n517" transform="translate(841,297)"><circle/><text>517</text></g><g id="n530" transform="translate(812,318)"><circle/><text>530</text></g><g id="n523" transform="translate(753,325)"><circle/><text>523</text></g><g id="n520" transform="translate(778,325)"><circle/><text>520</text></g><g id="n514" transform="translate(815,334)"><circle/><text>514</text></g><g id="n519" transform="translate(867,327)"><circle/><text>519</text></g><g id="n515" transform="translate(772,346)"><circle/><text>515</text></g><g id="n528" transform="translate(827,348)"><circle/><text>528</text></g><g id="n518" transform="translate(783,357)"><circle/><text>518</text></g>
</g>
<g id="cS" class="cS">
<g id="n245" transform="translate(889,263)"><circle/><text>245</text></g><g id="n260" transform="translate(882,278)"><circle/><text>260</text></g><g id="n247" transform="translate(918,270)"><circle/><text>247</text></g><g id="n246" transform="translate(861,293)"><circle/><text>246</text></g><g id="n249" transform="translate(917,285)"><circle/><text>249</text></g><g id="n258" transform="translate(897,298)"><circle/><text>258</text></g><g id="n259" transform="translate(953,289)"><circle/><text>259</text></g><g id="n261" transform="translate(932,306)"><circle/><text>261</text></g><g id="n253" transform="translate(1007,301)"><circle/><text>253</text></g><g id="n244" transform="translate(973,311)"><circle/><text>244</text></g><g id="n257" transform="translate(993,327)"><circle/><text>257</text></g><g id="n248" transform="translate(948,332)"><circle/><text>248</text></g><g id="n254" transform="translate(990,343)"><circle/><text>254</text></g><g id="n250" transform="translate(958,348)"><circle/><text>250</text></g><g id="n252" transform="translate(975,353)"><circle/><text>252</text></g>
</g>
<g id="cT" class="cT">
<g id="n589" transform="translate(1107,255)"><circle/><text>589</text></g><g id="n588" transform="translate(1152,262)"><circle/><text>588</text></g><g id="n586" transform="translate(1065,267)"><circle/><text>586</text></g><g id="n590" transform="translate(1107,278)"><circle/><text>590</text></g><g id="n597" transform="translate(1162,286)"><circle/><text>597</text></g><g id="n596" transform="translate(1055,293)"><circle/><text>596</text></g><g id="n595" transform="translate(1087,297)"><circle/><text>595</text></g><g id="n584" transform="translate(1138,300)"><circle/><text>584</text></g><g id="n587" transform="translate(1189,304)"><circle/><text>587</text></g><g id="n592" transform="translate(1150,317)"><circle/><text>592</text></g><g id="n591" transform="translate(1041,319)"><circle/><text>591</text></g><g id="n585" transform="translate(1072,325)"><circle/><text>585</text></g><g id="n594" transform="translate(1112,323)"><circle/><text>594</text></g><g id="n598" transform="translate(1093,345)"><circle/><text>598</text></g><g id="n593" transform="translate(1143,345)"><circle/><text>593</text></g>
</g>
<g id="cU" class="cU">
<g id="n502" transform="translate(112,366)"><circle/><text>502</text></g><g id="n508" transform="translate(167,367)"><circle/><text>508</text></g><g id="n513" transform="translate(74,390)"><circle/><text>513</text></g><g id="n511" transform="translate(132,389)"><circle/><text>511</text></g><g id="n510" transform="translate(18,395)"><circle/><text>510</text></g><g id="n504" transform="translate(118,406)"><circle/><text>504</text></g><g id="n512" transform="translate(65,413)"><circle/><text>512</text></g><g id="n507" transform="translate(163,417)"><circle/><text>507</text></g><g id="n509" transform="translate(61,427)"><circle/><text>509</text></g><g id="n505" transform="translate(116,431)"><circle/><text>505</text></g><g id="n506" transform="translate(33,447)"><circle/><text>506</text></g><g id="n503" transform="translate(160,446)"><circle/><text>503</text></g>
</g>
<g id="cV" class="cV">
<g id="n404" transform="translate(313,362)"><circle/><text>404</text></g><g id="n407" transform="translate(267,377)"><circle/><text>407</text></g><g id="n409" transform="translate(323,377)"><circle/><text>409</text></g><g id="n412" transform="translate(353,393)"><circle/><text>412</text></g><g id="n413" transform="translate(283,396)"><circle/><text>413</text></g><g id="n405" transform="translate(318,401)"><circle/><text>405</text></g><g id="n418" transform="translate(218,406)"><circle/><text>418</text></g><g id="n403" transform="translate(245,414)"><circle/><text>403</text></g><g id="n401" transform="translate(292,422)"><circle/><text>401</text></g><g id="n406" transform="translate(338,435)"><circle/><text>406</text></g><g id="n402" transform="translate(204,433)"><circle/><text>402</text></g><g id="n414" transform="translate(202,448)"><circle/><text>414</text></g><g id="n411" transform="translate(256,445)"><circle/><text>411</text></g><g id="n415" transform="translate(289,446)"><circle/><text>415</text></g>
</g>
<g id="cW" class="cW">
<g id="n286" transform="translate(73,482)"><circle/><text>286</text></g><g id="n284" transform="translate(166,483)"><circle/><text>284</text></g><g id="n281" transform="translate(129,492)"><circle/><text>281</text></g><g id="n295" transform="translate(13,498)"><circle/><text>295</text></g><g id="n296" transform="translate(48,503)"><circle/><text>296</text></g><g id="n290" transform="translate(64,498)"><circle/><text>290</text></g><g id="n283" transform="translate(90,506)"><circle/><text>283</text></g><g id="n291" transform="translate(47,517)"><circle/><text>291</text></g><g id="n285" transform="translate(177,513)"><circle/><text>285</text></g><g id="n292" transform="translate(73,529)"><circle/><text>292</text></g><g id="n293" transform="translate(110,530)"><circle/><text>293</text></g><g id="n288" transform="translate(138,523)"><circle/><text>288</text></g><g id="n297" transform="translate(173,537)"><circle/><text>297</text></g><g id="n294" transform="translate(142,547)"><circle/><text>294</text></g><g id="n287" transform="translate(117,554)"><circle/><text>287</text></g>
</g>
<g id="cX" class="cX">
<g id="n481" transform="translate(260,480)"><circle/><text>481</text></g><g id="n478" transform="translate(313,483)"><circle/><text>478</text></g><g id="n492" transform="translate(220,494)"><circle/><text>492</text></g><g id="n494" transform="translate(365,493)"><circle/><text>494</text></g><g id="n482" transform="translate(310,507)"><circle/><text>482</text></g><g id="n486" transform="translate(390,512)"><circle/><text>486</text></g><g id="n490" transform="translate(255,517)"><circle/><text>490</text></g><g id="n487" transform="translate(303,535)"><circle/><text>487</text></g><g id="n488" transform="translate(366,538)"><circle/><text>488</text></g><g id="n493" transform="translate(217,545)"><circle/><text>493</text></g><g id="n489" transform="translate(255,554)"><circle/><text>489</text></g><g id="n491" transform="translate(318,555)"><circle/><text>491</text></g>
</g>
<g id="cY" class="cY">
<g id="n214" transform="translate(455,367)"><circle/><text>214</text></g><g id="n212" transform="translate(420,375)"><circle/><text>212</text></g><g id="n220" transform="translate(463,386)"><circle/><text>220</text></g><g id="n219" transform="translate(528,391)"><circle/><text>219</text></g><g id="n210" transform="translate(403,392)"><circle/><text>210</text></g><g id="n221" transform="translate(500,405)"><circle/><text>221</text></g><g id="n222" transform="translate(556,411)"><circle/><text>222</text></g><g id="n213" transform="translate(425,410)"><circle/><text>213</text></g><g id="n209" transform="translate(448,409)"><circle/><text>209</text></g><g id="n217" transform="translate(499,427)"><circle/><text>217</text></g><g id="n208" transform="translate(423,424)"><circle/><text>208</text></g><g id="n215" transform="translate(470,447)"><circle/><text>215</text></g><g id="n211" transform="translate(493,452)"><circle/><text>211</text></g><g id="n216" transform="translate(545,442)"><circle/><text>216</text></g>
</g>
<g id="cZ" class="cZ">
<g id="n238" transform="translate(678,362)"><circle/><text>238</text></g><g id="n226" transform="translate(613,374)"><circle/><text>226</text></g><g id="n223" transform="translate(662,375)"><circle/><text>223</text></g><g id="n235" transform="translate(633,397)"><circle/><text>235</text></g><g id="n242" transform="translate(658,400)"><circle/><text>242</text></g><g id="n230" transform="translate(693,403)"><circle/><text>230</text></g><g id="n243" transform="translate(605,415)"><circle/><text>243</text></g><g id="n233" transform="translate(632,414)"><circle/><text>233</text></g><g id="n240" transform="translate(680,415)"><circle/><text>240</text></g><g id="n237" transform="translate(735,412)"><circle/><text>237</text></g><g id="n236" transform="translate(753,428)"><circle/><text>236</text></g><g id="n232" transform="translate(705,428)"><circle/><text>232</text></g><g id="n227" transform="translate(644,440)"><circle/><text>227</text></g><g id="n241" transform="translate(675,435)"><circle/><text>241</text></g><g id="n229" transform="translate(690,455)"><circle/><text>229</text></g><g id="n228" transform="translate(744,453)"><circle/><text>228</text></g>
</g>
<g id="cAA" class="cAA">
<g id="n71" transform="translate(848,371)"><circle/><text>71</text></g><g id="n75" transform="translate(896,369)"><circle/><text>75</text></g><g id="n72" transform="translate(919,379)"><circle/><text>72</text></g><g id="n77" transform="translate(837,393)"><circle/><text>77</text></g><g id="n78" transform="translate(881,398)"><circle/><text>78</text></g><g id="n76" transform="translate(947,394)"><circle/><text>76</text></g><g id="n64" transform="translate(801,409)"><circle/><text>64</text></g><g id="n69" transform="translate(850,416)"><circle/><text>69</text></g><g id="n70" transform="translate(886,416)"><circle/><text>70</text></g><g id="n65" transform="translate(933,422)"><circle/><text>65</text></g><g id="n66" transform="translate(835,439)"><circle/><text>66</text></g><g id="n79" transform="translate(871,433)"><circle/><text>79</text></g><g id="n68" transform="translate(897,453)"><circle/><text>68</text></g><g id="n73" transform="translate(927,449)"><circle/><text>73</text></g><g id="n67" transform="translate(858,458)"><circle/><text>67</text></g>
</g>
<g id="cAB" class="cAB">
<g id="n458" transform="translate(1080,378)"><circle/><text>458</text></g><g id="n454" transform="translate(1151,372)"><circle/><text>454</text></g><g id="n457" transform="translate(1175,390)"><circle/><text>457</text></g><g id="n449" transform="translate(1121,392)"><circle/><text>449</text></g><g id="n459" transform="translate(1127,407)"><circle/><text>459</text></g><g id="n451" transform="translate(1059,406)"><circle/><text>451</text></g><g id="n455" transform="translate(1077,418)"><circle/><text>455</text></g><g id="n456" transform="translate(1169,418)"><circle/><text>456</text></g><g id="n452" transform="translate(1029,428)"><circle/><text>452</text></g><g id="n450" transform="translate(1087,437)"><circle/><text>450</text></g><g id="n453" transform="translate(1125,440)"><circle/><text>453</text></g><g id="n448" transform="translate(1040,448)"><circle/><text>448</text></g><g id="n460" transform="translate(1072,456)"><circle/><text>460</text></g>
</g>
<g id="cAC" class="cAC">
<g id="n431" transform="translate(449,472)"><circle/><text>431</text></g><g id="n427" transform="translate(405,483)"><circle/><text>427</text></g><g id="n422" transform="translate(492,488)"><circle/><text>422</text></g><g id="n429" transform="translate(463,498)"><circle/><text>429</text></g><g id="n420" transform="translate(428,508)"><circle/><text>420</text></g><g id="n428" transform="translate(518,516)"><circle/><text>428</text></g><g id="n433" transform="translate(487,522)"><circle/><text>433</text></g><g id="n434" transform="translate(459,528)"><circle/><text>434</text></g><g id="n421" transform="translate(550,533)"><circle/><text>421</text></g><g id="n430" transform="translate(485,537)"><circle/><text>430</text></g><g id="n425" transform="translate(435,546)"><circle/><text>425</text></g><g id="n419" transform="translate(533,547)"><circle/><text>419</text></g><g id="n424" transform="translate(490,556)"><circle/><text>424</text></g>
</g>
<g id="cAD" class="cAD">
<g id="n63" transform="translate(593,464)"><circle/><text>63</text></g><g id="n56" transform="translate(643,461)"><circle/><text>56</text></g><g id="n54" transform="translate(620,477)"><circle/><text>54</text></g><g id="n57" transform="translate(658,477)"><circle/><text>57</text></g><g id="n58" transform="translate(698,476)"><circle/><text>58</text></g><g id="n51" transform="translate(611,497)"><circle/><text>51</text></g><g id="n52" transform="translate(629,495)"><circle/><text>52</text></g><g id="n59" transform="translate(660,496)"><circle/><text>59</text></g><g id="n55" transform="translate(583,516)"><circle/><text>55</text></g><g id="n61" transform="translate(644,516)"><circle/><text>61</text></g><g id="n47" transform="translate(667,515)"><circle/><text>47</text></g><g id="n60" transform="translate(615,536)"><circle/><text>60</text></g><g id="n49" transform="translate(658,545)"><circle/><text>49</text></g><g id="n53" transform="translate(694,541)"><circle/><text>53</text></g><g id="n50" transform="translate(594,551)"><circle/><text>50</text></g>
</g>
<g id="cAE" class="cAE">
<g id="n470" transform="translate(716,496)"><circle/><text>470</text></g><g id="n465" transform="translate(773,488)"><circle/><text>465</text></g><g id="n477" transform="translate(757,517)"><circle/><text>477</text></g><g id="n461" transform="translate(721,534)"><circle/><text>461</text></g><g id="n471" transform="translate(778,537)"><circle/><text>471</text></g><g id="n467" transform="translate(778,556)"><circle/><text>467</text></g><g id="n474" transform="translate(826,498)"><circle/><text>474</text></g><g id="n469" transform="translate(843,524)"><circle/><text>469</text></g>
</g>
<g id="cAF" class="cAF">
<g id="n446" transform="translate(951,483)"><circle/><text>446</text></g><g id="n442" transform="translate(1007,493)"><circle/><text>442</text></g><g id="n444" transform="translate(865,515)"><circle/><text>444</text></g><g id="n440" transform="translate(904,503)"><circle/><text>440</text></g><g id="n443" transform="translate(939,511)"><circle/><text>443</text></g><g id="n435" transform="translate(971,517)"><circle/><text>435</text></g><g id="n441" transform="translate(1043,526)"><circle/><text>441</text></g><g id="n447" transform="translate(1007,533)"><circle/><text>447</text></g><g id="n437" transform="translate(904,540)"><circle/><text>437</text></g><g id="n445" transform="translate(949,539)"><circle/><text>445</text></g>
</g>
<g id="cAG" class="cAG">
<g id="n497" transform="translate(1058,494)"><circle/><text>497</text></g><g id="n496" transform="translate(1133,498)"><circle/><text>496</text></g><g id="n501" transform="translate(1093,509)"><circle/><text>501</text></g><g id="n498" transform="translate(1142,522)"><circle/><text>498</text></g><g id="n499" transform="translate(1073,532)"><circle/><text>499</text></g><g id="n495" transform="translate(1116,550)"><circle/><text>495</text></g><g id="n500" transform="translate(1153,552)"><circle/><text>500</text></g>
</g>
</svg>
